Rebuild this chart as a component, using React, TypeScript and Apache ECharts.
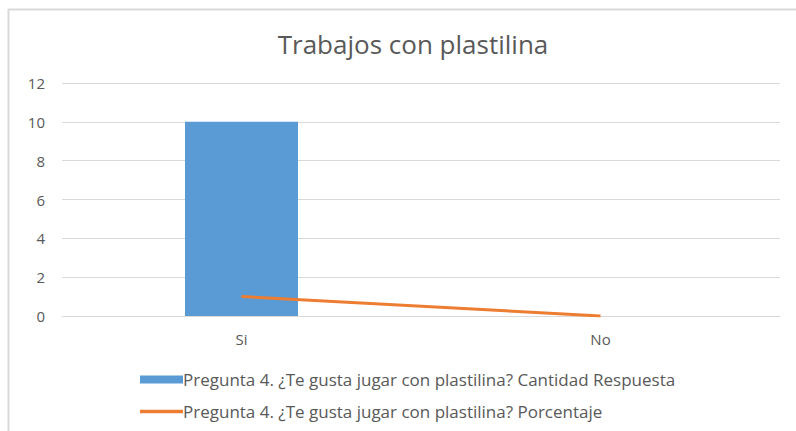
import React, { useEffect, useRef } from "react";
import * as echarts from "echarts";

const title = "Trabajos con plastilina";
const categories = ["Si", "No"];
const cantidadName = "Pregunta 4. ¿Te gusta jugar con plastilina? Cantidad Respuesta";
const porcentajeName = "Pregunta 4. ¿Te gusta jugar con plastilina? Porcentaje";
const cantidad = [10, 0];
const porcentaje = [1, 0];
const yTicks = [0, 2, 4, 6, 8, 10, 12];

const FONT = "'Open Sans', 'Noto Sans', sans-serif";

export default function App() {
  const ref = useRef<HTMLDivElement>(null);
  useEffect(() => {
    if (!ref.current) return;
    const chart = echarts.init(ref.current, undefined, { renderer: "svg" });
    chart.setOption({
      animation: false,
      backgroundColor: "#ffffff",
      title: {
        text: title,
        left: 408,
        top: 26,
        textAlign: "center",
        textStyle: { fontFamily: FONT, fontSize: 26, fontWeight: "normal", color: "#595959" },
      },
      graphic: [
        { type: "line", shape: { x1: 8, y1: 9.5, x2: 796, y2: 9.5 }, style: { stroke: "#d9d9d9", lineWidth: 2 } },
        { type: "line", shape: { x1: 8.5, y1: 9, x2: 8.5, y2: 431 }, style: { stroke: "#d9d9d9", lineWidth: 2 } },
      ],
      grid: { left: 62, right: 16, top: 83, height: 233, containLabel: false },
      legend: {
        orient: "vertical",
        left: 135,
        top: 366,
        itemGap: 15,
        itemWidth: 43,
        itemHeight: 8,
        symbolKeepAspect: true,
        textStyle: { fontFamily: FONT, fontSize: 17, color: "#595959", padding: [0, 0, 0, -5] },
        data: [
          { name: cantidadName, icon: "rect" },
          { name: porcentajeName, icon: "path://M0 0H43V3.5H0Z" },
        ],
      },
      xAxis: {
        type: "category",
        data: categories,
        axisLine: { show: true, lineStyle: { color: "#d9d9d9" } },
        axisTick: { show: false },
        axisLabel: { fontFamily: FONT, fontSize: 15, color: "#595959", margin: 15 },
      },
      yAxis: {
        type: "value",
        min: 0,
        max: 12,
        interval: 2,
        axisLine: { show: false },
        axisTick: { show: false },
        splitLine: { lineStyle: { color: "#d9d9d9" } },
        axisLabel: {
          fontFamily: FONT,
          fontSize: 15,
          color: "#595959",
          margin: 17,
          formatter: (v: number) => (yTicks.includes(v) ? String(v) : ""),
        },
      },
      series: [
        {
          name: cantidadName,
          type: "bar",
          data: cantidad,
          barWidth: 113,
          itemStyle: { color: "#5B9BD5" },
        },
        {
          name: porcentajeName,
          type: "line",
          data: porcentaje,
          showSymbol: false,
          symbol: "none",
          lineStyle: { color: "#ED7D31", width: 3 },
          itemStyle: { color: "#ED7D31" },
        },
      ],
    });
    return () => chart.dispose();
  }, []);
  return (
    <div
      ref={ref}
      style={{ position: "fixed", left: 0, top: 0, width: 796, height: 431 }}
    />
  );
}
